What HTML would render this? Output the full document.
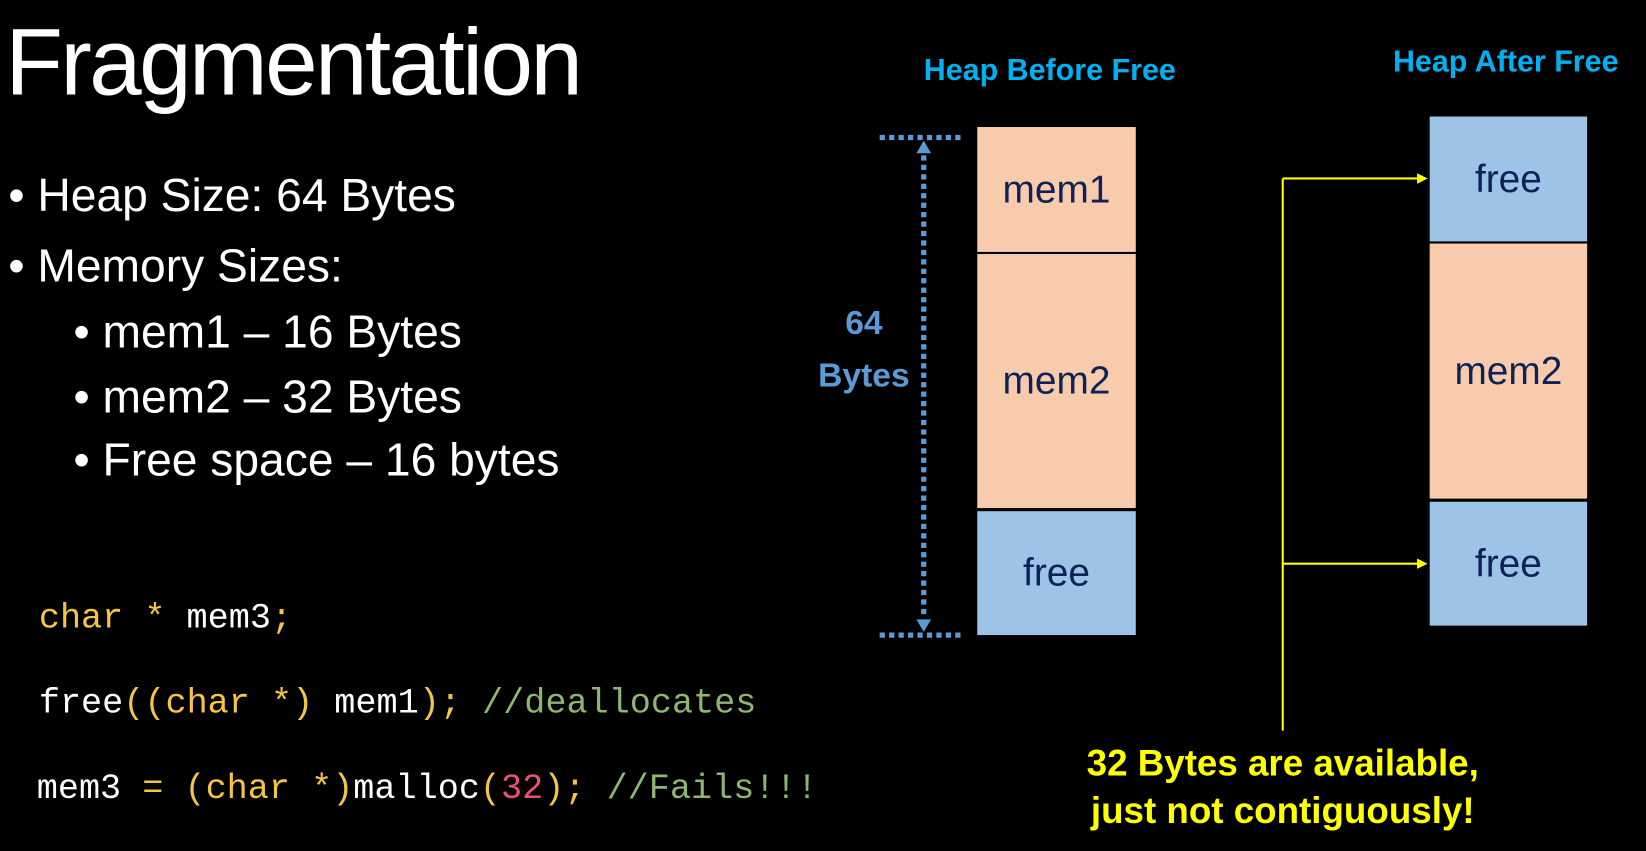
<!DOCTYPE html>
<html><head><style>
body{margin:0;width:1646px;height:851px;background:#000;position:relative;overflow:hidden;font-family:"Liberation Sans",sans-serif;color:#fff}
#c{position:absolute;left:0;top:0;width:1568px;height:811px;transform:scale(1.0497);transform-origin:0 0}
.a{position:absolute;white-space:nowrap}
.code{font-family:"Liberation Mono",monospace;font-size:33.5px;color:#fff}
.y{color:#f5c542}.g{color:#8fb573}.p{color:#e8507a}
.blk{position:absolute;box-sizing:border-box;display:flex;align-items:center;justify-content:center;font-family:"Liberation Sans",sans-serif;font-size:37px;color:#0d2257}
.o{background:#f8cbad}.b{background:#9dc3e6}
.h{font-weight:bold;font-size:29px;color:#00b0f0}
.bl{font-size:44px}
</style></head><body><div id="c">
<div class="a" style="left:5px;top:5px;font-size:90px;line-height:110px;letter-spacing:-2.5px">Fragmentation</div>
<div class="a bl" style="left:8px;top:162px">• Heap Size: 64 Bytes</div>
<div class="a bl" style="left:8px;top:229px">• Memory Sizes:</div>
<div class="a bl" style="left:70px;top:292px">• mem1 – 16 Bytes</div>
<div class="a bl" style="left:70px;top:354px">• mem2 – 32 Bytes</div>
<div class="a bl" style="left:70px;top:414px">• Free space – 16 bytes</div>
<div class="a code" style="left:37px;top:571px"><span class="y">char *</span> mem3<span class="y">;</span></div>
<div class="a code" style="left:37px;top:652px">free<span class="y">((char *)</span> mem1<span class="y">);</span> <span class="g">//deallocates</span></div>
<div class="a code" style="left:35px;top:733px">mem3 <span class="y">= (char *)</span>malloc<span class="y">(</span><span class="p">32</span><span class="y">);</span> <span class="g">//Fails!!!</span></div>

<div class="a h" style="left:880px;top:51px">Heap Before Free</div>
<div class="a h" style="left:1327px;top:43px">Heap After Free</div>

<div class="blk o" style="left:931px;top:121px;width:151px;height:119px">mem1</div>
<div class="blk o" style="left:931px;top:242px;width:151px;height:242px">mem2</div>
<div class="blk b" style="left:931px;top:487px;width:151px;height:118px">free</div>

<div class="blk b" style="left:1362px;top:111px;width:150px;height:119px">free</div>
<div class="blk o" style="left:1362px;top:232px;width:150px;height:243px">mem2</div>
<div class="blk b" style="left:1362px;top:478px;width:150px;height:118px">free</div>

<svg class="a" style="left:0;top:0" width="1568" height="811">
<g stroke="#5b9bd5" stroke-width="5" stroke-dasharray="5,4" fill="none">
<line x1="838" y1="131" x2="916" y2="131"/>
<line x1="838" y1="605" x2="916" y2="605"/>
<line x1="880" y1="148" x2="880" y2="588"/>
</g>
<polygon points="880,134 873,146 887,146" fill="#5b9bd5"/>
<polygon points="880,602 873,590 887,590" fill="#5b9bd5"/>
<g stroke="#ffff00" stroke-width="2" fill="none">
<line x1="1222" y1="170" x2="1222" y2="696"/>
<line x1="1222" y1="170" x2="1352" y2="170"/>
<line x1="1222" y1="537" x2="1352" y2="537"/>
</g>
<polygon points="1360,170 1350,165 1350,175" fill="#ffff00"/>
<polygon points="1360,537 1350,532 1350,542" fill="#ffff00"/>
</svg>
<div class="a" style="left:773px;top:282px;width:100px;text-align:center;font-weight:bold;font-size:32px;color:#5b9bd5;line-height:50px">64<br>Bytes</div>
<div class="a" style="left:922px;top:705px;width:600px;text-align:center;font-weight:bold;font-size:35px;color:#ffff00;line-height:45px">32 Bytes are available,<br>just not contiguously!</div>
</div></body></html>
